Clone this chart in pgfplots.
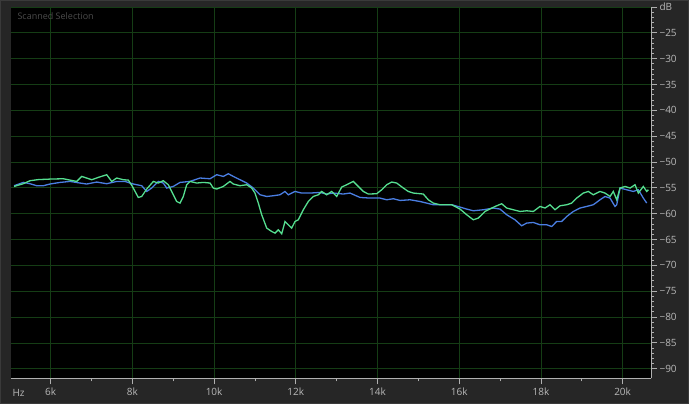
\documentclass[border=0pt]{standalone}
\usepackage{pgfplots}
\pgfplotsset{compat=1.18}
\usepackage{fontspec}
\setmainfont{Open Sans}
\definecolor{bgcol}{HTML}{262626}
\definecolor{framecol}{HTML}{3A3A3A}
\definecolor{gridcol}{HTML}{153D15}
\definecolor{axcol}{HTML}{B0B0B0}
\definecolor{labcol}{HTML}{B8B8B8}
\definecolor{titcol}{HTML}{4C4C4C}
\definecolor{grn}{HTML}{55DE90}
\definecolor{blu}{HTML}{4A7EE2}
\begin{document}
\begin{tikzpicture}
\fill[bgcol] (0,0) rectangle (689pt,404pt);
\draw[framecol, line width=1pt] (0.5pt,0.5pt) rectangle (688.5pt,403.5pt);
\begin{axis}[
  at={(11pt,25.7pt)}, anchor=south west,
  scale only axis, width=640pt, height=371.3pt,
  xmin=5028, xmax=20695, ymin=-91.86, ymax=-20,
  axis background/.style={fill=black},
  axis x line=bottom, axis y line=right,
  axis line style={draw=axcol, line width=0.9pt, -},
  tick align=outside,
  major tick length=6pt, minor tick length=3pt,
  every tick/.style={draw=axcol, line width=0.8pt},
  xtick={6000,8000,10000,12000,14000,16000,18000,20000},
  xticklabels={6k,8k,10k,12k,14k,16k,18k,20k},
  minor x tick num=1,
  ytick={-20,-25,-30,-35,-40,-45,-50,-55,-60,-65,-70,-75,-80,-85,-90},
  yticklabels={dB,−25,−30,−35,−40,−45,−50,−55,−60,−65,−70,−75,−80,−85,−90},
  minor y tick num=4,
  xmajorgrids, ymajorgrids,
  major grid style={draw=gridcol, line width=0.7pt},
  tick label style={font=\fontsize{10}{11}\selectfont, text=labcol},
  xticklabel style={yshift=-0.5pt},
  yticklabel style={xshift=-1pt},
  clip=true,
]
\addplot[blu, line width=1.3pt] coordinates {
(5102,-54.59)(5329,-53.95)(5493,-54.20)(5657,-54.59)(5819,-54.59)(5983,-54.26)
(6228,-53.95)(6472,-53.76)(6717,-54.07)(6881,-54.26)(7126,-53.88)(7371,-54.20)
(7616,-53.76)(7819,-53.76)(8022,-54.26)(8228,-54.59)(8350,-55.70)(8472,-55.04)
(8634,-53.76)(8756,-54.07)(8840,-55.04)(9001,-54.73)(9165,-53.95)(9410,-53.76)
(9655,-53.10)(9900,-53.24)(10064,-52.46)(10225,-52.79)(10348,-52.27)
(10470,-52.79)(10634,-53.43)(10798,-54.07)(10960,-55.04)(11124,-56.34)
(11288,-56.67)(11449,-56.53)(11613,-56.34)(11736,-55.70)(11816,-56.34)
(11981,-55.70)(12144,-56.01)(12348,-56.01)(12593,-55.89)(12756,-56.20)
(12918,-56.01)(13163,-56.20)(13327,-56.01)(13572,-56.86)(13816,-56.98)
(14061,-56.98)(14225,-57.31)(14387,-57.11)(14551,-57.44)(14796,-57.31)
(15040,-57.64)(15366,-58.27)(15530,-58.27)(15816,-58.27)(16020,-58.72)
(16184,-59.11)(16345,-59.44)(16590,-59.24)(16837,-58.91)(16999,-59.11)
(17163,-60.21)(17365,-61.18)(17529,-62.34)(17652,-61.82)(17814,-61.70)
(17978,-62.15)(18142,-62.15)(18264,-62.48)(18386,-61.51)(18508,-61.51)
(18632,-60.54)(18794,-59.57)(18957,-58.91)(19120,-58.60)(19283,-58.27)
(19447,-57.31)(19569,-56.67)(19692,-56.98)(19813,-58.60)(19856,-58.27)
(19937,-55.04)(20100,-55.37)(20262,-55.70)(20385,-55.37)(20507,-56.98)
(20590,-57.95)
};
\addplot[grn, line width=1.3pt] coordinates {
(5102,-54.73)(5330,-54.20)(5493,-53.62)(5700,-53.40)(6000,-53.30)(6308,-53.24)
(6636,-53.76)(6759,-52.79)(7004,-53.43)(7165,-52.98)(7371,-52.46)(7493,-53.76)
(7616,-53.10)(7777,-53.43)(7900,-53.50)(8000,-54.73)(8144,-56.86)(8228,-56.67)
(8350,-55.23)(8512,-53.76)(8634,-54.07)(8756,-53.62)(8879,-54.40)(9001,-56.34)
(9084,-57.64)(9165,-57.95)(9246,-56.67)(9329,-54.40)(9410,-53.76)(9574,-54.07)
(9736,-53.95)(9900,-54.07)(9980,-55.04)(10064,-55.23)(10225,-54.73)(10389,-53.76)
(10470,-54.26)(10634,-54.59)(10798,-54.40)(10920,-55.04)(11001,-56.01)
(11082,-57.95)(11165,-60.21)(11288,-62.79)(11410,-63.45)(11491,-63.76)
(11572,-63.12)(11655,-63.89)(11736,-61.51)(11816,-62.15)(11900,-62.79)
(11981,-61.51)(12061,-61.18)(12184,-59.24)(12306,-57.64)(12428,-56.67)
(12551,-56.34)(12634,-55.70)(12756,-56.34)(12879,-55.70)(13001,-56.67)
(13124,-54.84)(13246,-54.40)(13408,-53.76)(13530,-54.73)(13652,-55.70)
(13775,-56.20)(13980,-56.14)(14103,-55.37)(14225,-54.40)(14348,-53.88)
(14470,-54.07)(14632,-55.04)(14754,-55.70)(14877,-56.01)(15121,-56.20)
(15244,-57.31)(15366,-57.95)(15530,-58.27)(15816,-58.27)(16020,-59.11)
(16184,-60.21)(16345,-61.18)(16468,-60.85)(16632,-59.57)(16796,-58.91)
(16918,-58.47)(17040,-58.08)(17163,-58.91)(17324,-59.24)(17489,-59.57)
(17652,-59.44)(17814,-59.57)(17978,-58.60)(18100,-58.91)(18223,-58.27)
(18345,-59.24)(18468,-58.47)(18632,-58.27)(18754,-57.95)(18876,-56.98)
(19038,-56.01)(19160,-55.70)(19283,-56.34)(19447,-55.70)(19569,-56.01)
(19692,-56.67)(19772,-55.70)(19856,-57.31)(19937,-55.04)(20059,-54.73)
(20181,-55.04)(20304,-54.40)(20385,-56.01)(20507,-54.73)(20590,-55.70)
(20631,-55.37)
};
\end{axis}
\node[anchor=west, text=labcol, font=\fontsize{10}{11}\selectfont] at (9pt,11.5pt) {Hz};
\node[anchor=west, text=titcol, font=\fontsize{9}{10}\selectfont] at (14pt,388pt) {Scanned Selection};
\pgfresetboundingbox
\useasboundingbox (0,0) rectangle (689pt,404pt);
\end{tikzpicture}
\end{document}
